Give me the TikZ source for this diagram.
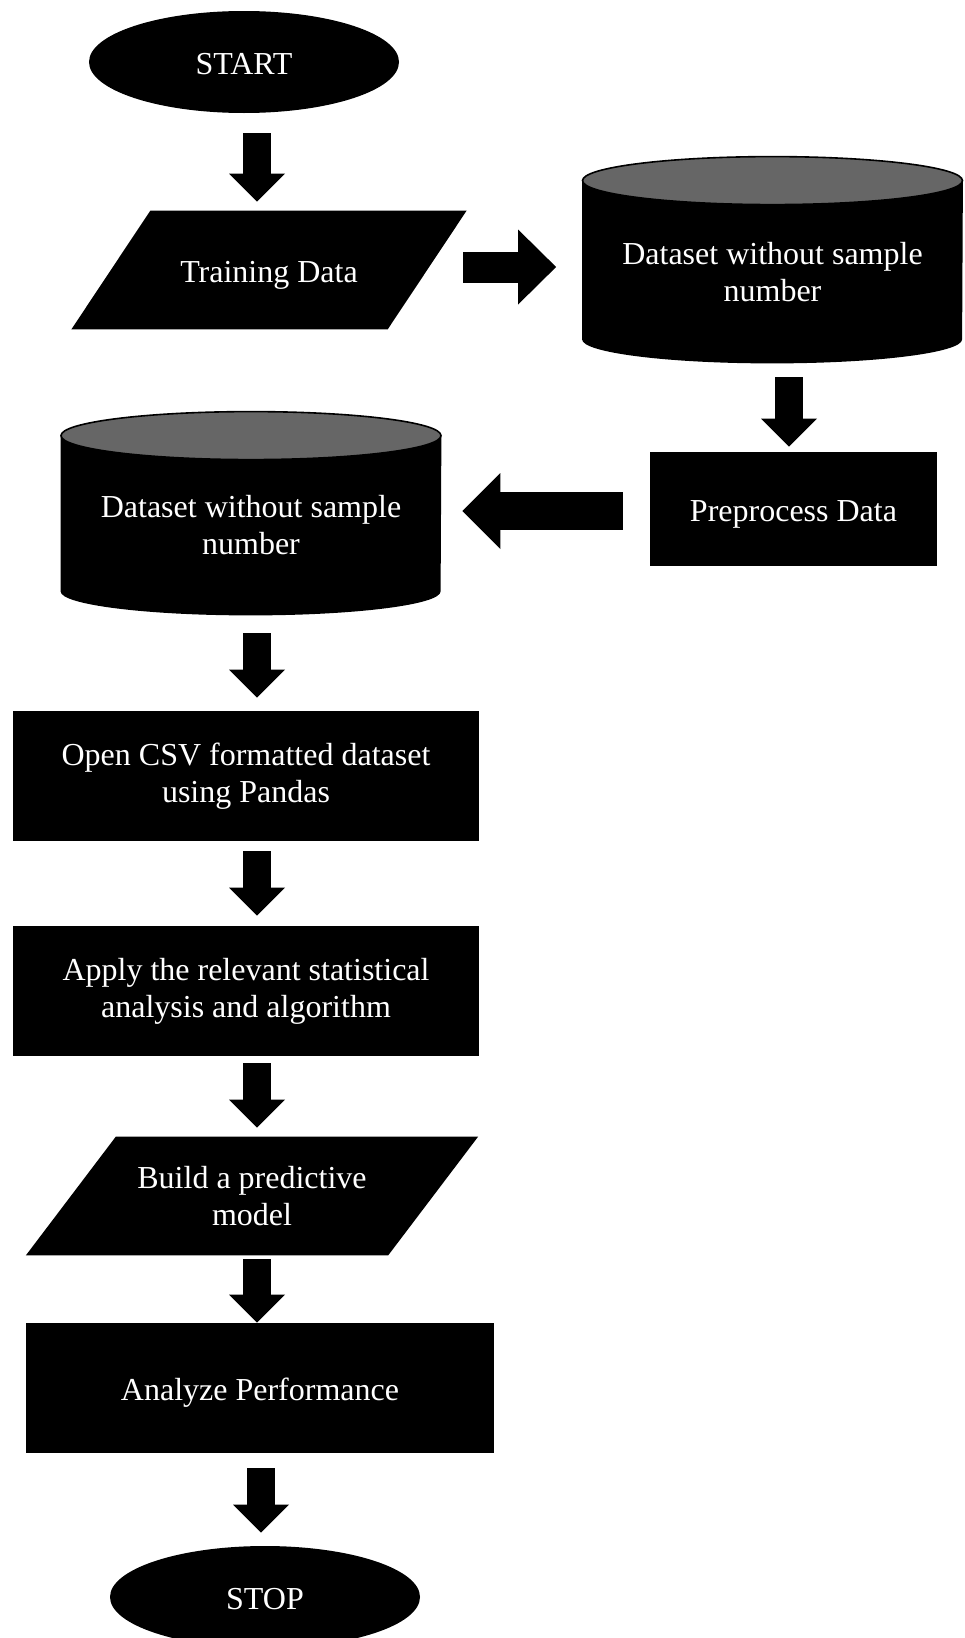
\documentclass[tikz,border=0pt]{standalone}
\usepackage{fontspec}
\setmainfont{Liberation Serif}
\usetikzlibrary{shapes.geometric, arrows.meta, backgrounds}

\definecolor{lidgray}{HTML}{666666}

\tikzset{
  txt/.style={text=white, align=center, inner sep=0pt, font=\fontsize{16}{18.5}\selectfont},
  box/.style={txt, fill=black},
  oneline/.style={text height=15.5pt},
  term/.style={box, ellipse, text height=13pt, minimum width=155pt, minimum height=51pt},
  proc/.style={box, rectangle},
  io/.style={txt},
  drum/.style={txt, minimum width=190pt},
  vflow/.style={line width=14pt, -{Triangle[width=28pt, length=14pt, line width=0pt]}},
  hflow/.style 2 args={line width=#1, -{Triangle[width=#2, length=19pt, line width=0pt]}}
}

\begin{document}
\begin{tikzpicture}[x=0.5pt, y=-0.5pt]
    \useasboundingbox (0,0) rectangle (964,1638);

    \node[term] (start) at (244,62) {START};
    \node[io, oneline, minimum width=157.75pt, minimum height=59pt] (train) at (269,270) {Training Data};
    \node[drum, minimum height=91pt] (ds1) at (772.5,272) {Dataset without sample\\number};
    \node[proc, oneline, minimum width=143.5pt, minimum height=57pt] (prep) at (793.5,509) {Preprocess Data};
    \node[drum, minimum height=89.5pt] (ds2) at (251,525.5) {Dataset without sample\\number};
    \node[proc, minimum width=233pt, minimum height=65pt] (csv) at (246,776) {Open CSV formatted dataset\\using Pandas};
    \node[proc, minimum width=233pt, minimum height=65pt] (apply) at (246,991) {Apply the relevant statistical\\analysis and algorithm};
    \node[io, minimum width=180.75pt, minimum height=59pt] (build) at (252,1196) {Build a predictive\\model};
    \node[proc, oneline, minimum width=234pt, minimum height=65pt] (perf) at (260,1388) {Analyze Performance};
    \node[term] (stop) at (265,1597) {STOP};

    \begin{scope}[on background layer]
      % data parallelograms
      \fill ([xshift=-19.75pt]train.south west) -- ([xshift=-19.75pt]train.south east) -- ([xshift=19.75pt]train.north east) -- ([xshift=19.75pt]train.north west) -- cycle;
      \fill ([xshift=-22.5pt]build.south west) -- ([xshift=-22.5pt]build.south east) -- ([xshift=22.5pt]build.north east) -- ([xshift=22.5pt]build.north west) -- cycle;
      % database drums
      \foreach \db in {ds1,ds2}{
        \fill (\db.north west) -- ([yshift=12pt]\db.south west) arc[start angle=180, end angle=360, x radius=95pt, y radius=12pt] -- (\db.north east) -- cycle;
        \filldraw[fill=lidgray, line width=0.8pt] (\db.north) ellipse[x radius=95pt, y radius=12pt];
      }
    \end{scope}

    % block arrows
    \draw[vflow, shorten <=10pt, shorten >=4.5pt] ([xshift=6.5pt]start.south) -- ([xshift=-6pt]train.north);
    \draw[hflow={15.5pt}{37.5pt}, shorten <=18pt, shorten >=13pt] ([yshift=1.5pt]train.east) -- ([yshift=2.5pt]ds1.west);
    \draw[vflow, shorten <=7pt, shorten >=2.5pt] ([xshift=8.25pt]ds1.south) -- ([xshift=-2.25pt]prep.north);
    \draw[hflow={19pt}{38pt}, shorten <=13.5pt, shorten >=10.5pt] ([yshift=-1pt]prep.west) -- ([yshift=7.25pt]ds2.east);
    \draw[vflow, shorten <=9pt, shorten >=6.5pt] ([xshift=3pt]ds2.south) -- ([xshift=5.5pt]csv.north);
    \draw[vflow, shorten <=5pt, shorten >=5pt] ([xshift=5.5pt]csv.south) -- ([xshift=5.5pt]apply.north);
    \draw[vflow, shorten <=3.5pt, shorten >=4.5pt] ([xshift=5.5pt]apply.south) -- ([xshift=2.5pt]build.north);
    \draw[vflow, shorten <=2pt] ([xshift=2.5pt]build.south) -- ([xshift=-1.5pt]perf.north);
    \draw[vflow, shorten <=7.5pt, shorten >=6.5pt] ([xshift=0.5pt]perf.south) -- ([xshift=-2pt]stop.north);
\end{tikzpicture}
\end{document}
